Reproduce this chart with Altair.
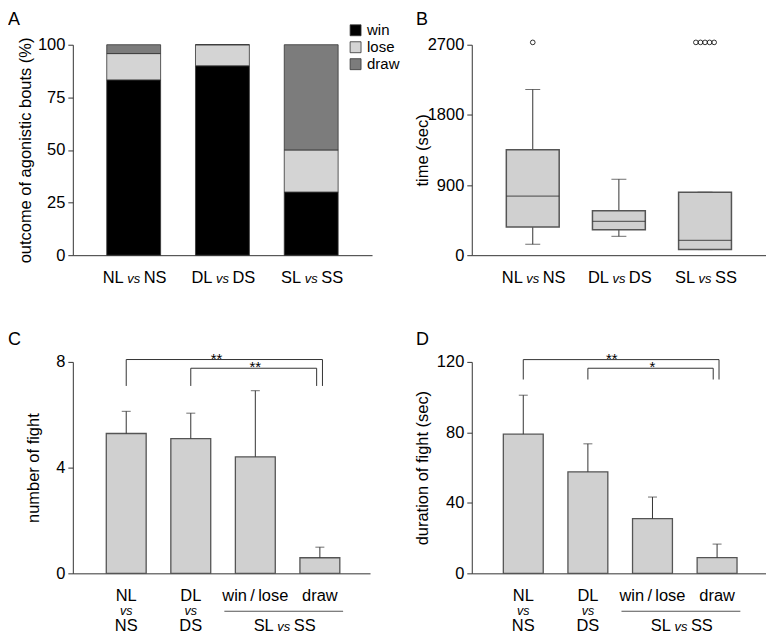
import altair as alt
import pandas as pd

FONT = "Liberation Sans"
AX = "#333333"
FILL = "#d0d0d0"
EDGE = "#555555"
FS = 16.5

# ---------------- data ----------------
# Panel A: outcome of agonistic bouts (%)
a_groups = ["NL", "DL", "SL"]
a_second = ["NS", "DS", "SS"]
a_outcomes = ["win", "lose", "draw"]
a_win = [83.3, 90.0, 30.0]
a_lose = [12.5, 10.0, 20.0]
a_draw = [4.2, 0.0, 50.0]
a_ticks = [0, 25, 50, 75, 100]

# Panel B: time (sec) box plots
b_pos = [0, 1, 2]
b_first = ["NL", "DL", "SL"]
b_second = ["NS", "DS", "SS"]
b_low = [140, 242, 72]
b_q1 = [361, 327, 72]
b_med = [757, 434, 191]
b_q3 = [1352, 570, 808]
b_high = [2126, 974, 808]
b_out_x = [0.0, 1.894, 1.947, 2.0, 2.053, 2.106]
b_out_y = [2730, 2730, 2730, 2730, 2730, 2730]
b_ticks = [0, 900, 1800, 2700]

# Panels C & D
cd_pos = [0, 1, 2, 3]
cd_line1 = ["NL", "DL", "win\u2009/\u2009lose", "draw"]
cd_vs_pos = [0, 1]
cd_line3 = ["NS", "DS"]
c_mean = [5.29, 5.10, 4.41, 0.59]
c_err = [0.84, 0.96, 2.50, 0.40]
c_ticks = [0, 4, 8]
d_mean = [79.0, 57.6, 31.0, 8.9]
d_err = [22.1, 15.9, 12.3, 7.7]
d_ticks = [0, 40, 80, 120]

# significance brackets
c_br_left = [0, 1]
c_br_right = [3.04, 2.95]
c_br_level = [8.09, 7.76]
c_br_foot = [7.09, 7.09]
c_br_star_x = [1.40, 2.0]
c_br_star = ["**", "**"]
d_br_left = [0, 1]
d_br_right = [3.03, 2.94]
d_br_level = [121.3, 116.4]
d_br_foot = [110.0, 110.0]
d_br_star_x = [1.37, 2.0]
d_br_star = ["**", "*"]

group_line = [1.52, 3.36]   # extent of the "SL vs SS" underline
group_label_x = [2.44]


def title(letter, dx, offset):
    return alt.TitleParams(text=letter, anchor="start", frame="group", dx=dx,
                           offset=offset, fontSize=18, font=FONT,
                           fontWeight="normal", color="black")


def vs_texts(df, xenc, y, first, second):
    left = alt.Chart(df).mark_text(align="right", baseline="alphabetic", dx=-10,
                                   font=FONT, fontSize=FS, color="black").encode(
        x=xenc, y=alt.value(y), text=f"{first}:N")
    mid = alt.Chart(df).mark_text(align="center", baseline="alphabetic",
                                  font=FONT, fontSize=13, fontStyle="italic",
                                  color="black").encode(
        x=xenc, y=alt.value(y), text=alt.value("vs"))
    right = alt.Chart(df).mark_text(align="left", baseline="alphabetic", dx=10,
                                    font=FONT, fontSize=FS, color="black").encode(
        x=xenc, y=alt.value(y), text=f"{second}:N")
    return [left, mid, right]


# ---------------- Panel A ----------------
WA, HA = 300, 211
rowsA = []
for i, g in enumerate(a_groups):
    for k, (o, vals) in enumerate(zip(a_outcomes, [a_win, a_lose, a_draw])):
        rowsA.append({"g": g, "outcome": o, "value": vals[i], "ord": k})
dfA = pd.DataFrame(rowsA)
labA = pd.DataFrame({"g": a_groups, "s": a_second})

xA = alt.X("g:N", sort=a_groups,
           scale=alt.Scale(domain=a_groups, paddingInner=0.393, paddingOuter=0.382),
           axis=alt.Axis(labels=False, ticks=False, title=None))
barsA = alt.Chart(dfA).mark_bar(stroke="#333333", strokeWidth=0.8).encode(
    x=xA,
    y=alt.Y("value:Q", stack="zero",
            scale=alt.Scale(domain=[0, 100], nice=False),
            axis=alt.Axis(values=a_ticks, title="outcome of agonistic bouts (%)",
                          titlePadding=4)),
    color=alt.Color("outcome:N",
                    scale=alt.Scale(domain=a_outcomes,
                                    range=["#000000", "#d4d4d4", "#7c7c7c"]),
                    legend=alt.Legend(title=None, orient="none", legendX=276,
                                      legendY=-22, symbolType="square",
                                      symbolSize=120, symbolStrokeColor="#333333",
                                      symbolStrokeWidth=0.8, labelFont=FONT,
                                      labelFontSize=15, labelColor="black",
                                      rowPadding=1, labelOffset=4, padding=0)),
    order=alt.Order("ord:Q"),
)
chartA = alt.layer(barsA, *vs_texts(labA, xA, HA + 28, "g", "s")).properties(
    width=WA, height=HA, title=title("A", -65, 8))

# ---------------- Panel B ----------------
WB, HB = 295, 211
dfB = pd.DataFrame({"pos": b_pos, "f": b_first, "s": b_second, "low": b_low,
                    "q1": b_q1, "med": b_med, "q3": b_q3, "high": b_high})
dfBo = pd.DataFrame({"pos": b_out_x, "y": b_out_y})


def xB(field):
    return alt.X(f"{field}:Q", scale=alt.Scale(domain=[-0.65, 2.65], nice=False, zero=False),
                 axis=alt.Axis(labels=False, ticks=False, title=None))


def yB(field):
    return alt.Y(f"{field}:Q", scale=alt.Scale(domain=[0, 2700], nice=False),
                 axis=alt.Axis(values=b_ticks, format="d", title="time (sec)",
                               titlePadding=-3))


baseB = alt.Chart(dfB)
whisk_hi = baseB.mark_rule(color=AX).encode(x=xB("pos"), y=yB("q3"), y2="high:Q")
whisk_lo = baseB.mark_rule(color=AX).encode(x=xB("pos"), y=yB("low"), y2="q1:Q")
cap_hi = baseB.mark_tick(orient="horizontal", size=15, thickness=1, color=AX).encode(
    x=xB("pos"), y=yB("high"))
cap_lo = baseB.mark_tick(orient="horizontal", size=15, thickness=1, color=AX).encode(
    x=xB("pos"), y=yB("low"))
boxB = baseB.mark_bar(width=53, fill=FILL, stroke=EDGE, strokeWidth=1.5).encode(
    x=xB("pos"), y=yB("q1"), y2="q3:Q")
medB = baseB.mark_tick(orient="horizontal", size=53, thickness=1.3, color=AX).encode(
    x=xB("pos"), y=yB("med"))
outB = alt.Chart(dfBo).mark_point(shape="circle", filled=False, size=22, color="black",
                                  strokeWidth=0.8, opacity=1).encode(
    x=xB("pos"), y=yB("y"))
chartB = alt.layer(whisk_hi, whisk_lo, cap_hi, cap_lo, boxB, medB, outB,
                   *vs_texts(dfB, xB("pos"), HB + 28, "f", "s")).properties(
    width=WB, height=HB, title=title("B", -56, 8))


# ---------------- Panels C & D ----------------
def bar_panel(mean, err, ticks, ymax, ytitle, tpad, W, xdom, br_left, br_right,
              br_level, br_foot, br_star_x, br_star, letter, tdx):
    H = 212

    def xq(field):
        return alt.X(f"{field}:Q", scale=alt.Scale(domain=xdom, nice=False, zero=False),
                     axis=alt.Axis(labels=False, ticks=False, title=None))

    def yq(field):
        return alt.Y(f"{field}:Q", scale=alt.Scale(domain=[0, ymax], nice=False),
                     axis=alt.Axis(values=ticks, title=ytitle, titlePadding=tpad))

    df = pd.DataFrame({"pos": cd_pos, "mean": mean,
                       "top": [m + e for m, e in zip(mean, err)],
                       "l1": cd_line1})
    dfb = pd.DataFrame({"a": br_left, "b": br_right, "lev": br_level, "foot": br_foot,
                        "sx": br_star_x, "star": br_star})
    dfvs = pd.DataFrame({"pos": cd_vs_pos, "l3": cd_line3})
    dfg = pd.DataFrame({"x1": [group_line[0]], "x2": [group_line[1]]})
    dfgl = pd.DataFrame({"pos": group_label_x, "f": ["SL"], "s": ["SS"]})

    base = alt.Chart(df)
    bars = base.mark_bar(width=40, fill=FILL, stroke=EDGE, strokeWidth=1.3).encode(
        x=xq("pos"), y=yq("mean"))
    err_r = base.mark_rule(color=AX).encode(x=xq("pos"), y=yq("mean"), y2="top:Q")
    err_c = base.mark_tick(orient="horizontal", size=9, thickness=1, color=AX).encode(
        x=xq("pos"), y=yq("top"))
    bb = alt.Chart(dfb)
    br_h = bb.mark_rule(color=AX).encode(x=xq("a"), x2="b:Q", y=yq("lev"))
    br_l = bb.mark_rule(color=AX).encode(x=xq("a"), y=yq("lev"), y2="foot:Q")
    br_r = bb.mark_rule(color=AX).encode(x=xq("b"), y=yq("lev"), y2="foot:Q")
    stars = bb.mark_text(align="center", baseline="alphabetic", dy=4, font=FONT,
                         fontSize=15, color="black").encode(
        x=xq("sx"), y=yq("lev"), text="star:N")
    lab1 = base.mark_text(align="center", baseline="alphabetic", font=FONT,
                          fontSize=FS, color="black").encode(
        x=xq("pos"), y=alt.value(H + 28), text="l1:N")
    labvs = alt.Chart(dfvs).mark_text(align="center", baseline="alphabetic", font=FONT,
                                      fontSize=12.5, fontStyle="italic",
                                      color="black").encode(
        x=xq("pos"), y=alt.value(H + 42), text=alt.value("vs"))
    lab3 = alt.Chart(dfvs).mark_text(align="center", baseline="alphabetic", font=FONT,
                                     fontSize=FS, color="black").encode(
        x=xq("pos"), y=alt.value(H + 58), text="l3:N")
    gline = alt.Chart(dfg).mark_rule(color="#555555", strokeWidth=1.2).encode(
        x=xq("x1"), x2="x2:Q", y=alt.value(H + 38))
    glab = vs_texts(dfgl, xq("pos"), H + 58, "f", "s")
    return alt.layer(bars, err_r, err_c, br_h, br_l, br_r, stars, lab1, labvs, lab3,
                     gline, *glab).properties(width=W, height=H,
                                              title=title(letter, tdx, 3))


chartC = bar_panel(c_mean, c_err, c_ticks, 8, "number of fight", 14, 298,
                   [-0.75, 3.70], c_br_left, c_br_right, c_br_level, c_br_foot,
                   c_br_star_x, c_br_star, "C", -65)
chartD = bar_panel(d_mean, d_err, d_ticks, 120, "duration of fight (sec)", 6, 295,
                   [-0.72, 3.68], d_br_left, d_br_right, d_br_level, d_br_foot,
                   d_br_star_x, d_br_star, "D", -56)

chart = alt.concat(chartA, chartB, chartC, chartD, columns=2,
                   spacing={"row": 43, "column": 42}).properties(
    align="each", padding={"left": 0, "top": 2, "right": 0, "bottom": 0}
).configure_axis(
    labelFont=FONT, titleFont=FONT, labelFontSize=FS, titleFontSize=FS,
    labelColor="black", titleColor="black", titleFontWeight="normal",
    domainColor=AX, tickColor=AX, grid=False, tickSize=5, labelPadding=3,
).configure_view(stroke=None)

chart.save("out.html", embed_options={"renderer": "svg", "actions": False})
